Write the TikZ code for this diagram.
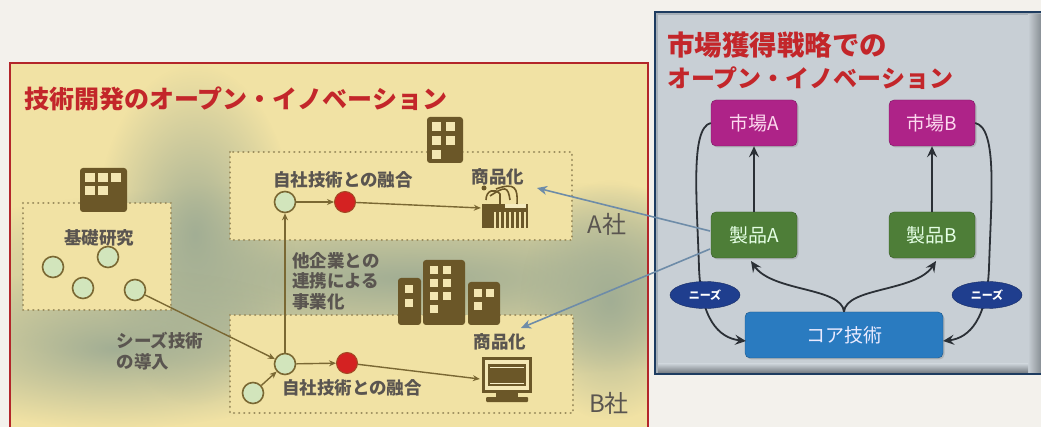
\documentclass[tikz,border=0pt]{standalone}
\usepackage{fontspec}
\setmainfont{Noto Sans CJK JP}
\usetikzlibrary{arrows.meta,shapes.geometric,calc,shadows,fadings}

\definecolor{pagebg}{HTML}{F3F1EC}
\definecolor{panelY}{HTML}{F1E2A4}
\definecolor{sage}{HTML}{A2AE94}
\definecolor{frameRed}{HTML}{B3262A}
\definecolor{titleRed}{HTML}{C3262A}
\definecolor{iconBrown}{HTML}{6B5728}
\definecolor{olive}{HTML}{7A6833}
\definecolor{dotLine}{HTML}{9C8E5E}
\definecolor{labelGray}{HTML}{5A5550}
\definecolor{seedGreen}{HTML}{D2E5BC}
\definecolor{dotRed}{HTML}{D42222}
\definecolor{frameBlue}{HTML}{1E3C60}
\definecolor{panelGray}{HTML}{A7B0B8}
\definecolor{innerGray}{HTML}{C8CFD5}
\definecolor{marketMag}{HTML}{AE2388}
\definecolor{productGreen}{HTML}{4E7E38}
\definecolor{coreBlue}{HTML}{2A7BC0}
\definecolor{needsNavy}{HTML}{1F3E8E}
\definecolor{linkBlue}{HTML}{6E8CA8}
\definecolor{darkArrow}{HTML}{2B3036}

% soft-edged patch used for the cloudy background
\tikzfading[name=softpatch, inner color=transparent!0, outer color=transparent!100]

\tikzset{
  lbl/.style={text=labelGray, font=\bfseries\fontsize{17.5}{20.5}\selectfont, inner sep=0pt, align=left},
  dotbox/.style={draw=dotLine, line width=2.4pt, dash pattern=on 0.1pt off 5pt, line cap=round, fill=panelY},
  seed/.style={circle, draw=olive, line width=1.6pt, fill=seedGreen, minimum size=21pt, inner sep=0pt},
  fuse/.style={circle, draw=olive!70!red, line width=1pt, fill=dotRed, minimum size=21pt, inner sep=0pt},
  oarrow/.style={draw=olive, line width=1.4pt, -{Stealth[length=7pt,width=6pt]}},
  rbox/.style={rounded corners=5pt, minimum width=86pt, minimum height=46pt, inner sep=0pt,
     font=\fontsize{19}{22}\selectfont, drop shadow={shadow xshift=1.5pt, shadow yshift=-1.5pt, opacity=0.35}},
  darr/.style={draw=darkArrow, line width=1.8pt, -{Stealth[length=11pt,width=10pt,inset=4pt]}},
  barr/.style={draw=linkBlue, line width=1.6pt, -{Stealth[length=10pt,width=9pt,inset=3pt]}},
  needs/.style={ellipse, fill=needsNavy, draw=needsNavy!70!black, minimum width=70pt, minimum height=27pt,
     inner sep=0pt, text=white, font=\bfseries\fontsize{11}{12}\selectfont},
  win/.style={fill=panelY!85!white},
  company/.style={text=labelGray, font=\fontsize{24}{27}\selectfont, inner sep=0pt},
  cloud/.style={fill=sage, path fading=softpatch},
}

\begin{document}
\begin{tikzpicture}[x=1pt, y=-1pt]
\useasboundingbox (0,0) rectangle (1041,427);
\fill[pagebg] (0,0) rectangle (1041,427);

% ---------------- technology development panel ----------------
\fill[panelY] (10,63) rectangle (648,440);
\begin{scope}
  \clip (10,63) rectangle (648,440);
  \fill[cloud] (410,278) ellipse (560pt and 100pt);
  \fill[cloud] (195,235) ellipse (100pt and 170pt);
  \fill[cloud] (115,348) ellipse (230pt and 80pt);
  \fill[cloud] (610,300) ellipse (90pt and 120pt);
\end{scope}
\draw[frameRed, line width=2.6pt] (10,440) -- (10,63) -- (648,63) -- (648,440);
\node[anchor=west, text=titleRed, font=\bfseries\fontsize{25}{28}\selectfont, inner sep=0pt]
  (devTitle) at (24,99) {技術開発のオープン・イノベーション};

% dotted boxes
\draw[dotbox] (23,203) rectangle (171,310);
\draw[dotbox] (230,152) rectangle (572,240);
\draw[dotbox] (230,315) rectangle (573,413);

% basic research building
\fill[iconBrown, rounded corners=3pt] (80,168) rectangle (127,212);
\foreach \x/\y in {85/173, 98/173, 111/173, 85/186, 98/186}
  \fill[win] (\x,\y) rectangle ++(10,9);

% company A building
\fill[iconBrown, rounded corners=3pt] (427,117) rectangle (463,163);
\foreach \x/\y in {432/122, 446/122, 432/136, 446/136, 432/150}
  \fill[win] (\x,\y) rectangle ++(9,9);

% partner buildings
\fill[iconBrown, rounded corners=3pt] (398,278) rectangle (421,325);
\fill[iconBrown, rounded corners=3pt] (423,260) rectangle (465,325);
\fill[iconBrown, rounded corners=3pt] (468,282) rectangle (500,325);
\foreach \x/\y in {405/285, 405/299, 430/266, 443/266, 430/279, 443/279, 430/292, 443/292, 430/305,
                   474/289, 486/289, 474/302}
  \fill[win] (\x,\y) rectangle ++(8,8);

\node[lbl] (basic) at (99,238) {基礎研究};

% seeds in basic research
\node[seed] (s1) at (53,267) {};
\node[seed] (s2) at (108,257) {};
\node[seed] (s3) at (83,288) {};
\node[seed] (s4) at (135,290) {};

% company A row
\node[lbl] (fuseA) at (343,180) {自社技術との融合};
\node[seed] (gA) at (285,202) {};
\node[fuse] (rA) at (345,202) {};
\node[lbl] (prodA) at (498,177) {商品化};
\node[inner sep=0pt, minimum width=48pt, minimum height=40pt] (kbd) at (505,208) {};
\node[company] (coA) at (607,224) {A社};

% keyboard device icon
\fill[iconBrown] (482,204) rectangle (528,228);
\fill[panelY!70!white] (505,204) rectangle (526,208);
\foreach \x in {495,500,505,510,515,520,525}
  \draw[panelY!90!white, line width=1.2pt] (\x,212) -- (\x,228);
\draw[iconBrown, line width=1.6pt] (486,200) .. controls (486,190) and (495,188) .. (500,194) -- (500,204);
\draw[iconBrown, line width=1.6pt] (490,196) .. controls (505,186) and (508,186) .. (510,200);
\draw[iconBrown, line width=1.6pt] (496,189) .. controls (515,182) and (518,188) .. (517,204);
\fill[iconBrown] (484,188) circle (2.5pt);

% company B row
\node[seed] (gB) at (285,364) {};
\node[seed] (gB0) at (253,393) {};
\node[fuse] (rB) at (347,363) {};
\node[lbl] (fuseB) at (352,388) {自社技術との融合};
\node[lbl] (prodB) at (500,342) {商品化};
\node[inner sep=0pt, minimum width=50pt, minimum height=46pt] (mon) at (505,379) {};
\node[company] (coB) at (609,403) {B社};

% monitor icon
\fill[iconBrown] (482,357) rectangle (532,393);
\fill[panelY!80!white] (485,360) rectangle (529,390);
\fill[iconBrown] (488,364) rectangle (526,386);
\draw[panelY!60!white, line width=0.8pt] (490,367) -- (524,367);
\draw[panelY!60!white, line width=0.8pt] (490,383) -- (524,383);
\fill[iconBrown] (496,393) rectangle (518,397);
\fill[iconBrown, rounded corners=1pt] (486,397) rectangle (528,402);

% labels on the flows
\node[lbl] (seeds) at (160,351) {シーズ技術\\の導入};
\node[lbl, anchor=north west] (partner) at (292,252) {他企業との\\連携による\\事業化};

% flows
\draw[oarrow] (s4) -- (gB);
\draw[oarrow] (gB0) -- (gB);
\draw[oarrow] (gB) -- (gA);
\draw[oarrow] (gA) -- (rA);
\draw[oarrow] (rA) -- (kbd.west);
\draw[oarrow] (gB) -- (rB);
\draw[oarrow] (rB) -- (mon.west);

% ---------------- market acquisition panel ----------------
\fill[panelGray] (655,12) rectangle (1045,374);
\fill[innerGray] (658,15) rectangle (1028,364);
\shade[left color=innerGray, right color=panelGray!70!black] (1028,15) rectangle (1045,372);
\shade[top color=innerGray, bottom color=panelGray!75!black] (658,364) rectangle (1028,372);
\draw[frameBlue, line width=2.4pt] (1045,12) -- (655,12) -- (655,374) -- (1045,374);

\node[anchor=west, text=titleRed, font=\bfseries\fontsize{27.5}{30}\selectfont, inner sep=0pt]
  (mktTitle1) at (667,45) {市場獲得戦略での};
\node[anchor=west, text=titleRed, font=\bfseries\fontsize{24}{28}\selectfont, inner sep=0pt]
  (mktTitle2) at (667,78) {オープン・イノベーション};

\node[rbox, fill=marketMag, draw=marketMag!70!black, text=magenta!15!white] (mA) at (754,123) {市場A};
\node[rbox, fill=marketMag, draw=marketMag!70!black, text=magenta!15!white] (mB) at (932,123) {市場B};
\node[rbox, fill=productGreen, draw=productGreen!70!black, text=green!10!white] (pA) at (754,235) {製品A};
\node[rbox, fill=productGreen, draw=productGreen!70!black, text=green!10!white] (pB) at (932,235) {製品B};
\node[rbox, minimum width=198pt, fill=coreBlue, draw=coreBlue!70!black, text=blue!8!white] (core) at (844,335) {コア技術};

\coordinate (pAfoot) at (751,261);
\coordinate (pBfoot) at (936,261);
\coordinate (coreW) at (746,341);
\coordinate (coreE) at (943,341);

\draw[darr] (pA) -- (mA);
\draw[darr] (pB) -- (mB);
\draw[darr] (core.north) .. controls (842,287) and (772,292) .. (pAfoot);
\draw[darr] (core.north) .. controls (846,287) and (916,292) .. (pBfoot);
\draw[darr] (mA.west) .. controls (690,128) and (697,200) .. (699,268)
            .. controls (701,318) and (718,338) .. (coreW);
\draw[darr] (mB.east) .. controls (998,128) and (991,200) .. (989,268)
            .. controls (987,318) and (970,338) .. (coreE);

\node[needs] (needsL) at (705,295) {ニーズ};
\node[needs] (needsR) at (987,295) {ニーズ};

% links from product A to the commercialised goods
\coordinate (pAup) at (710,231);
\coordinate (pAlow) at (710,249);
\coordinate (goodsA) at (537,188);
\coordinate (goodsB) at (521,328);
\draw[barr] (pAup) -- (goodsA);
\draw[barr] (pAlow) -- (goodsB);
\end{tikzpicture}
\end{document}
